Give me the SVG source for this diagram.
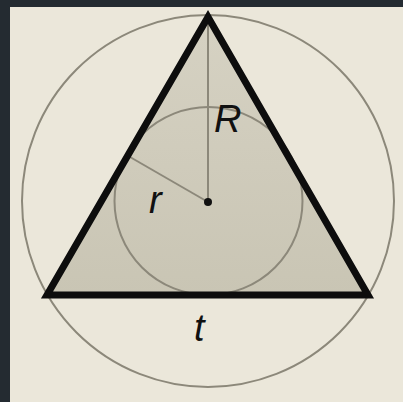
<svg xmlns="http://www.w3.org/2000/svg" width="403" height="402" viewBox="0 0 403 402">
<defs>
<style>
.circ{fill:none;stroke:#8c887a;stroke-width:2}
.lbl{font-family:"Liberation Sans",Arial,sans-serif;font-style:italic;font-size:38px;fill:#111}
.rad{stroke:#8c887a;stroke-width:2}
</style>
<linearGradient id="tri" x1="0" y1="0" x2="0" y2="1">
<stop offset="0" stop-color="#d6d2c3"/>
<stop offset="1" stop-color="#c9c5b4"/>
</linearGradient>
</defs>
<rect x="0" y="0" width="403" height="402" fill="#ebe7da"/>
<rect x="0" y="0" width="403" height="7" fill="#242b31"/>
<rect x="0" y="0" width="10" height="402" fill="#242b31"/>
<g id="circumcircle"><circle cx="208" cy="201" r="186" class="circ"/></g>
<g id="triangle"><polygon points="208,17 47,295 368,295" fill="url(#tri)"/></g>
<g id="incircle"><circle cx="208.5" cy="201" r="94" class="circ" fill="#d7d3c5" fill-opacity="0.6"/></g>
<g id="connectors">
<line x1="208" y1="17" x2="208" y2="202" class="rad"/>
<line x1="208" y1="202" x2="130" y2="157" class="rad"/>
</g>
<g id="triangle-edges"><polygon points="208,17 47,295 368,295" fill="none" stroke="#0d0d0d" stroke-width="7" stroke-linejoin="miter"/></g>
<g id="center"><circle cx="208" cy="202" r="4" fill="#111"/></g>
<g id="labels">
<text class="lbl" x="214" y="132">R</text>
<text class="lbl" x="149" y="213">r</text>
<text class="lbl" x="194" y="341">t</text>
</g>
</svg>
